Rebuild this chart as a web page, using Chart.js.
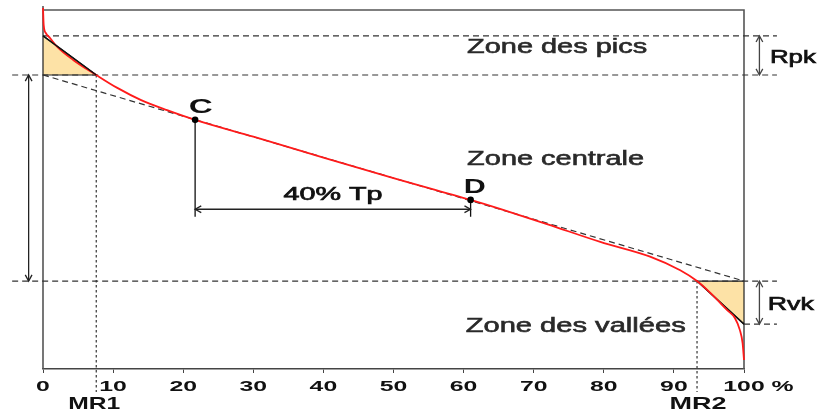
<!DOCTYPE html>
<html>
<head>
<meta charset="utf-8">
<script src="https://cdn.jsdelivr.net/npm/chart.js@4/dist/chart.umd.min.js"></script>
<style>
  body { margin: 0; background: #fff; }
  #wrap { width: 817px; height: 415px; }
</style>
</head>
<body>
<div id="wrap"><canvas id="abbott"></canvas></div>
<script>
// Abbott-Firestone curve (bearing ratio %, height in arbitrary units 0-100)
const curveX = [0, 0.1, 0.4, 1.0, 2.0, 4.3, 7.6, 10.6, 14.0, 17.7, 21.7, 30, 40, 50, 61.0, 65.2, 72, 79.5, 86.6, 90.9, 93.3, 95.2, 97.6, 98.7, 99.4, 99.8, 100];
const curveY = [100.6, 95.8, 93.6, 92.2, 89.8, 86.1, 81.9, 78.3, 74.9, 72.1, 69.4, 64.7, 58.9, 53.2, 47.1, 44.6, 40.3, 35.4, 31.3, 27.5, 24.5, 21.2, 16.4, 14.2, 10.9, 7.2, 2.5];

// equivalent straight line (secant over 40 % Tp)
const lineX = [0, 100];
const lineY = [81.9, 24.5];

// levels
const rpkTop = 92.8;
const coreTop = 81.9;
const coreBottom = 24.5;
const rvkBottom = 12.5;
const mr1 = 7.6;
const mr2 = 93.3;
const pointC = [21.7, 69.4];
const pointD = [61.0, 47.1];
const tpArrowY = 44.5;
const dropBottom = 42.4;

const xTicks = [0, 10, 20, 30, 40, 50, 60, 70, 80, 90, 100];

const pts = (xs, ys) => xs.map((v, i) => ({ x: v, y: ys[i] }));

const dashed = { borderColor: '#333', borderWidth: 1.2, borderDash: [6, 4], pointRadius: 0, showLine: true, clip: false, order: 3 };
const dotted = { borderColor: '#444', borderWidth: 1.3, borderDash: [2.5, 2.5], pointRadius: 0, showLine: true, clip: false, order: 3 };
const solid = { borderColor: '#111', borderWidth: 1.3, pointRadius: 0, showLine: true, clip: false, order: 2 };

// labels in data coords: [text, x, y, width, font, color, align, stroke]
const labels = [
  ['Zone des pics', 60.5, 88.0, 180, '20px "Liberation Sans"', '#2a2a2a', 'left', 0.6],
  ['Zone centrale', 60.5, 56.8, 177, '20px "Liberation Sans"', '#2a2a2a', 'left', 0.6],
  ['Zone des vallées', 60.3, 10.4, 220, '20px "Liberation Sans"', '#2a2a2a', 'left', 0.6],
  ['C', 22.5, 71.3, 24, 'bold 20px "Liberation Sans"', '#111', 'center', 0],
  ['D', 61.6, 49.0, 22, 'bold 20px "Liberation Sans"', '#111', 'center', 0],
  ['40% Tp', 34.3, 47.1, 99, '18px "Liberation Sans"', '#111', 'left', 0.7],
  ['Rpk', 103.7, 85.2, 46, '19px "Liberation Sans"', '#111', 'left', 0.7],
  ['Rvk', 103.4, 16.4, 46, '19px "Liberation Sans"', '#111', 'left', 0.7]
];

// double arrows: [x1, y1, x2, y2, color]
const arrows = [
  [-2.05, coreTop, -2.05, coreBottom, '#222'],
  [102.2, rpkTop, 102.2, coreTop, '#444'],
  [102.2, coreBottom, 102.2, rvkBottom, '#444'],
  [pointC[0], tpArrowY, pointD[0], tpArrowY, '#222']
];

function wideText(ctx, str, px, py, width, font, color, align, stroke) {
  ctx.save();
  ctx.font = font;
  const sx = width / ctx.measureText(str).width;
  ctx.translate(px, py);
  ctx.scale(sx, 1);
  ctx.fillStyle = color;
  ctx.textAlign = align;
  ctx.textBaseline = 'alphabetic';
  ctx.fillText(str, 0, 0);
  if (stroke) {
    ctx.strokeStyle = color;
    ctx.lineWidth = stroke;
    ctx.strokeText(str, 0, 0);
  }
  ctx.restore();
}

function head(ctx, x, y, ang) {
  const s = 7, w = 0.5;
  ctx.beginPath();
  ctx.moveTo(x - s * Math.cos(ang - w), y - s * Math.sin(ang - w));
  ctx.lineTo(x, y);
  ctx.lineTo(x - s * Math.cos(ang + w), y - s * Math.sin(ang + w));
  ctx.stroke();
}

const frame = {
  id: 'frame',
  beforeDatasetsDraw(chart) {
    const { ctx, chartArea: a } = chart;
    ctx.save();
    ctx.strokeStyle = '#555';
    ctx.lineWidth = 1.6;
    ctx.beginPath();
    ctx.moveTo(a.left, a.top - 4);
    ctx.lineTo(a.left, a.bottom);
    ctx.moveTo(a.left, a.top);
    ctx.lineTo(a.right, a.top);
    ctx.lineTo(a.right, a.bottom);
    ctx.stroke();
    ctx.restore();
  },
  afterDatasetsDraw(chart) {
    const { ctx, chartArea: a, scales: { x, y } } = chart;
    ctx.save();
    // arrows
    ctx.lineWidth = 1.3;
    arrows.forEach(([x1, y1, x2, y2, c]) => {
      const p1 = [x.getPixelForValue(x1), y.getPixelForValue(y1)];
      const p2 = [x.getPixelForValue(x2), y.getPixelForValue(y2)];
      ctx.strokeStyle = c;
      ctx.beginPath();
      ctx.moveTo(p1[0], p1[1]);
      ctx.lineTo(p2[0], p2[1]);
      ctx.stroke();
      const ang = Math.atan2(p2[1] - p1[1], p2[0] - p1[0]);
      head(ctx, p2[0], p2[1], ang);
      head(ctx, p1[0], p1[1], ang + Math.PI);
    });
    // labels
    labels.forEach(([t, lx, ly, w, f, c, al, st]) => {
      wideText(ctx, t, x.getPixelForValue(lx), y.getPixelForValue(ly), w, f, c, al, st);
    });
    // tick labels (stretched like the original)
    const tf = 'bold 15.5px "Liberation Sans"';
    ctx.font = tf;
    xTicks.forEach(t => {
      const px = x.getPixelForValue(t);
      const str = String(t);
      const w = ctx.measureText(str).width * 1.6;
      if (t === 100) {
        const w2 = ctx.measureText(str + ' %').width * 1.6;
        wideText(ctx, str + ' %', px - w / 2, a.bottom + 21.7, w2, tf, '#111', 'left', 0);
      } else {
        wideText(ctx, str, px, a.bottom + 21.7, w, tf, '#111', 'center', 0);
      }
    });
    wideText(ctx, 'MR1', x.getPixelForValue(mr1) - 2, a.bottom + 40, 52, 'bold 17px "Liberation Sans"', '#111', 'center', 0);
    wideText(ctx, 'MR2', x.getPixelForValue(mr2) + 1, a.bottom + 40, 57, 'bold 17px "Liberation Sans"', '#111', 'center', 0);
    ctx.restore();
  }
};

new Chart(document.getElementById('abbott'), {
  type: 'scatter',
  data: {
    datasets: [
      { data: [{ x: pointC[0], y: pointC[1] }, { x: pointD[0], y: pointD[1] }], pointRadius: 3.3, pointBackgroundColor: '#000', pointBorderWidth: 0, showLine: false, order: -1 },
      { data: pts(curveX, curveY), borderColor: '#ff1a1a', borderWidth: 1.8, pointRadius: 0, showLine: true, cubicInterpolationMode: 'monotone', clip: false, order: 0 },
      { ...dashed, data: pts(lineX, lineY) },
      { ...dashed, data: pts([0, 104.7], [rpkTop, rpkTop]) },
      { ...dashed, data: pts([-4.4, 104.7], [coreTop, coreTop]) },
      { ...dashed, data: pts([-4.4, 104.7], [coreBottom, coreBottom]) },
      { ...dashed, data: pts([100, 104.7], [rvkBottom, rvkBottom]) },
      { ...dotted, data: pts([mr1, mr1], [coreTop, -6.4]) },
      { ...dotted, data: pts([mr2, mr2], [coreBottom, -6.4]) },
      { ...solid, data: pts([pointC[0], pointC[0]], [pointC[1], dropBottom]) },
      { ...solid, data: pts([pointD[0], pointD[0]], [pointD[1], dropBottom]) },
      // hypotenuses drawn on top of the red curve, as in the original
      { ...solid, borderColor: '#111', borderWidth: 1.4, order: -0.5, data: pts([0, mr1], [rpkTop, coreTop]) },
      { ...solid, borderColor: '#111', borderWidth: 1.4, order: 1, data: pts([mr2, 100], [coreBottom, rvkBottom]) },
      { data: pts([0, 0, mr1, 0], [rpkTop, coreTop, coreTop, rpkTop]), showLine: true, fill: 'shape', backgroundColor: '#fde2a6', borderColor: '#222', borderWidth: 1.2, pointRadius: 0, order: 5 },
      { data: pts([mr2, 100, 100, mr2], [coreBottom, coreBottom, rvkBottom, coreBottom]), showLine: true, fill: 'shape', backgroundColor: '#fde2a6', borderColor: '#222', borderWidth: 1.2, pointRadius: 0, order: 5 }
    ]
  },
  options: {
    responsive: true,
    maintainAspectRatio: false,
    animation: false,
    layout: { padding: { left: 43, right: 73, top: 10, bottom: 36 } },
    plugins: { legend: { display: false }, tooltip: { enabled: false } },
    scales: {
      x: {
        type: 'linear', min: 0, max: 100,
        afterBuildTicks: s => { s.ticks = xTicks.map(v => ({ value: v })); },
        ticks: { display: false },
        grid: { display: true, drawOnChartArea: false, drawTicks: true, tickLength: 4, color: '#444' },
        border: { display: true, color: '#444', width: 1.6 },
        afterFit: s => { s.height = 10; }
      },
      y: { type: 'linear', min: 0, max: 100, display: false }
    }
  },
  plugins: [frame]
});
</script>
</body>
</html>
